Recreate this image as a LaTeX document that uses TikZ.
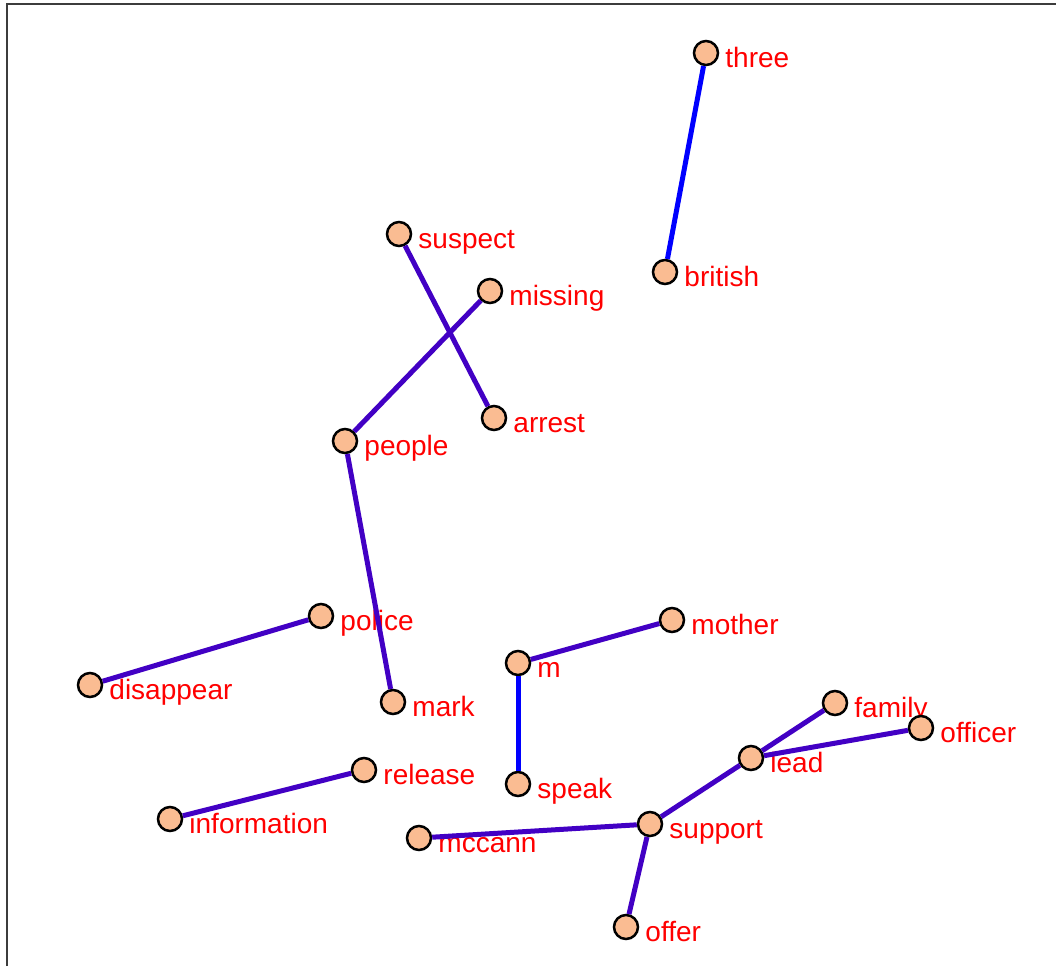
\documentclass[tikz,border=0pt]{standalone}
\usepackage{fontspec}
\setmainfont{Liberation Sans}
\usepackage{tikz}
\usetikzlibrary{positioning}

\definecolor{nodepeach}{RGB}{250,188,146}
\definecolor{edgeblue}{RGB}{0,0,255}
\definecolor{edgeviolet}{RGB}{66,0,196}
\definecolor{framegray}{RGB}{60,60,60}

\tikzset{
  word/.style={circle, draw=black, line width=2.5pt, fill=nodepeach,
    minimum size=24pt, inner sep=0pt},
  wordlbl/.style={anchor=base west, xshift=6pt, yshift=-14pt, text=red,
    font=\fontsize{28}{32}\selectfont, inner sep=0pt},
  link/.style={line width=5pt, edgeviolet},
  bluelink/.style={line width=5pt, edgeblue}
}

\begin{document}
\begin{tikzpicture}[x=1pt, y=-1pt]
    \useasboundingbox (0,0) rectangle (1056,966);
    % frame
    \draw[framegray, line width=2pt] (7,966) -- (7,4) -- (1056,4);

    % words
    \node[word, label={[wordlbl]right:three}] (three) at (706,53) {};
    \node[word, label={[wordlbl]right:british}] (british) at (665,272) {};
    \node[word, label={[wordlbl]right:suspect}] (suspect) at (399,234) {};
    \node[word, label={[wordlbl]right:missing}] (missing) at (490,291) {};
    \node[word, label={[wordlbl]right:arrest}] (arrest) at (494,418) {};
    \node[word, label={[wordlbl]right:people}] (people) at (345,441) {};
    \node[word, label={[wordlbl]right:police}] (police) at (321,616) {};
    \node[word, label={[wordlbl]right:disappear}] (disappear) at (90,685) {};
    \node[word, label={[wordlbl]right:mark}] (mark) at (393,702) {};
    \node[word, label={[wordlbl]right:m}] (m) at (518,663) {};
    \node[word, label={[wordlbl]right:mother}] (mother) at (672,620) {};
    \node[word, label={[wordlbl]right:speak}] (speak) at (518,784) {};
    \node[word, label={[wordlbl]right:release}] (release) at (364,770) {};
    \node[word, label={[wordlbl]right:information}] (information) at (170,819) {};
    \node[word, label={[wordlbl]right:mccann}] (mccann) at (419,838) {};
    \node[word, label={[wordlbl]right:support}] (support) at (650,824) {};
    \node[word, label={[wordlbl]right:offer}] (offer) at (626,927) {};
    \node[word, label={[wordlbl]right:lead}] (lead) at (751,758) {};
    \node[word, label={[wordlbl]right:family}] (family) at (835,703) {};
    \node[word, label={[wordlbl]right:officer}] (officer) at (921,728) {};

    % links
    \draw[bluelink] (three) -- (british);
    \draw[bluelink] (m) -- (speak);
    \draw[link] (suspect) -- (arrest);
    \draw[link] (missing) -- (people);
    \draw[link] (people) -- (mark);
    \draw[link] (police) -- (disappear);
    \draw[link] (m) -- (mother);
    \draw[link] (release) -- (information);
    \draw[link] (mccann) -- (support);
    \draw[link] (support) -- (offer);
    \draw[link] (support) -- (lead);
    \draw[link] (lead) -- (family);
    \draw[link] (lead) -- (officer);
\end{tikzpicture}
\end{document}
